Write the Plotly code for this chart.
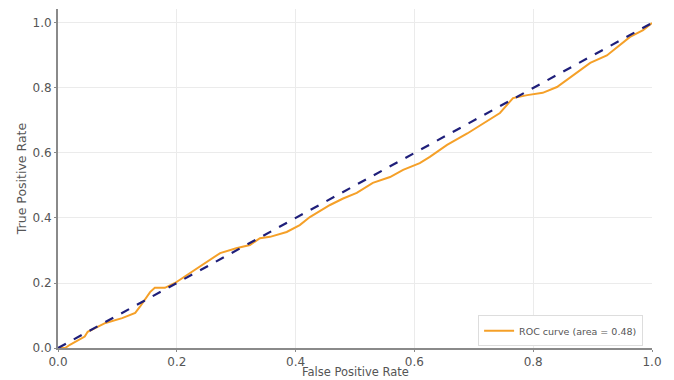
import plotly.graph_objects as go

# ROC curve points
fpr = [0.0, 0.012, 0.02, 0.045, 0.05, 0.062, 0.08, 0.108, 0.13, 0.138, 0.146, 0.155, 0.163,
       0.18, 0.197, 0.222, 0.25, 0.273, 0.30, 0.323, 0.34, 0.357, 0.385, 0.407, 0.424,
       0.458, 0.48, 0.503, 0.53, 0.559, 0.581, 0.609, 0.626, 0.655, 0.689, 0.716, 0.744,
       0.756, 0.766, 0.79, 0.816, 0.84, 0.867, 0.896, 0.924, 0.951, 0.963, 0.985, 1.0]
tpr = [0.0, 0.0, 0.01, 0.035, 0.05, 0.06, 0.077, 0.092, 0.108, 0.127, 0.148, 0.172, 0.185,
       0.185, 0.2, 0.23, 0.265, 0.292, 0.307, 0.317, 0.338, 0.342, 0.357, 0.378, 0.403,
       0.44, 0.46, 0.477, 0.508, 0.526, 0.548, 0.569, 0.588, 0.625, 0.66, 0.692, 0.723,
       0.748, 0.769, 0.778, 0.785, 0.803, 0.84, 0.877, 0.90, 0.938, 0.957, 0.978, 1.0]
chance = [0.0, 1.0]
roc_label = "ROC curve (area = 0.48)"
x_title = "False Positive Rate"
y_title = "True Positive Rate"
ticks = [0.0, 0.2, 0.4, 0.6, 0.8, 1.0]
tick_text = ["0.0", "0.2", "0.4", "0.6", "0.8", "1.0"]

fig = go.Figure()
fig.add_trace(go.Scatter(x=fpr, y=tpr, mode="lines", name=roc_label,
                         line=dict(color="#F5A028", width=2)))
fig.add_trace(go.Scatter(x=chance, y=chance, mode="lines", showlegend=False,
                         line=dict(color="#1F1F7A", width=2.2, dash="dash")))

axis_common = dict(showgrid=True, gridcolor="#EBEBEB", gridwidth=1, zeroline=False,
                   showline=True, linecolor="#8A8A8A", linewidth=2, automargin=False,
                   ticks="outside", ticklen=2, tickcolor="#8A8A8A",
                   tickvals=ticks, ticktext=tick_text,
                   tickfont=dict(family="DejaVu Sans", size=12, color="#555555"))

# page body has an 8px default margin, so the figure is sized/offset to compensate
fig.update_layout(
    width=666, height=372,
    margin=dict(l=50, r=22, t=1, b=32),
    paper_bgcolor="white", plot_bgcolor="white",
    xaxis=dict(range=[0, 1.0], **axis_common),
    yaxis=dict(range=[0, 1.043], title=dict(text=y_title, standoff=3,
               font=dict(family="DejaVu Sans", size=12.5, color="#555555")), **axis_common),
    legend=dict(x=0.985, y=0.005, xanchor="right", yanchor="bottom",
                bgcolor="white", bordercolor="#DDDDDD", borderwidth=1,
                font=dict(family="DejaVu Sans", size=9.5, color="#555555"),
                itemwidth=30, tracegroupgap=0),
    showlegend=True,
)
fig.add_annotation(text=x_title, xref="paper", yref="paper", x=0.5, y=0,
                   xanchor="center", yanchor="bottom", yshift=-33, showarrow=False,
                   font=dict(family="DejaVu Sans", size=11.5, color="#555555"))

fig.write_html("out.html")
